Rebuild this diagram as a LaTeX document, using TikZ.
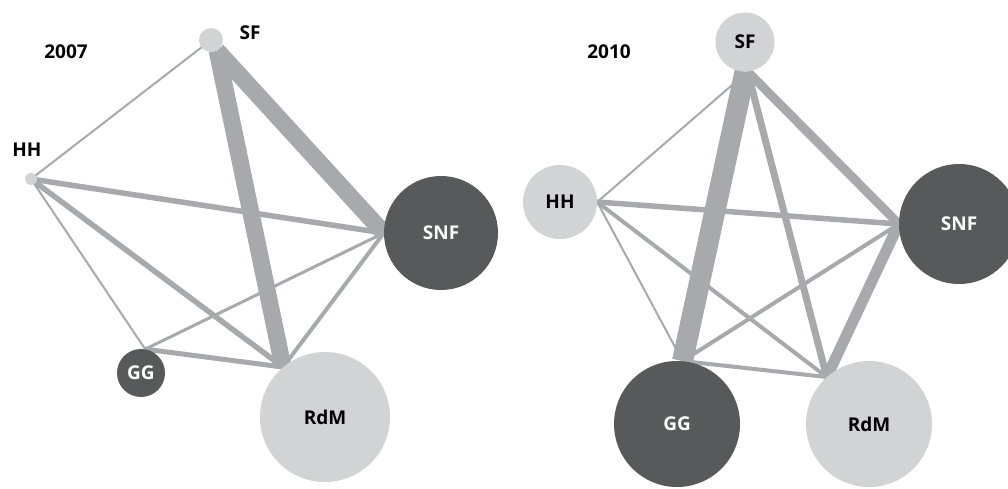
\documentclass[tikz,border=0pt]{standalone}
\usepackage{fontspec}
\setmainfont{Open Sans}
\usetikzlibrary{backgrounds}
\definecolor{tiegray}{HTML}{A7A9AC}
\definecolor{lightfill}{HTML}{D1D3D4}
\definecolor{darkfill}{HTML}{58595B}

\begin{document}
\begin{tikzpicture}[x=1pt,y=-1pt,
    lbl/.style={font=\bfseries\fontsize{19}{21}\selectfont},
    lightnode/.style={lbl,circle,fill=lightfill,inner sep=0pt,minimum size=#1},
    darknode/.style={lbl,circle,fill=darkfill,text=white,inner sep=0pt,minimum size=#1},
    tie/.style={draw=tiegray,line width=#1}]
    \useasboundingbox (0,0) rectangle (1008,489);
    % 2007
    \node[lbl] (y07) at (66,52) {2007};
    \node[lightnode=24] (SF07) at (211,40) {};
    \node[lbl] (SF07lbl) at (250,33) {SF};
    \node[lightnode=12] (HH07) at (31,179) {};
    \node[lbl] (HH07lbl) at (27,150) {HH};
    \node[darknode=114] (SNF07) at (441,233) {SNF};
    \node[darknode=48] (GG07) at (141,373) {GG};
    \node[lightnode=130] (RdM07) at (325,417) {RdM};
    % 2010
    \node[lbl] (y10) at (609,52) {2010};
    \node[lightnode=59] (SF10) at (745,42) {SF};
    \node[lightnode=74] (HH10) at (560,202) {HH};
    \node[darknode=120] (SNF10) at (959,224) {SNF};
    \node[darknode=126] (GG10) at (677,424) {GG};
    \node[lightnode=126] (RdM10) at (869,424) {RdM};
    \begin{scope}[on background layer]
      \draw[tie=17] (SF07.-60) -- (SNF07.west);
      \draw[tie=17] (SF07.-60) -- (RdM07.130);
      \draw[tie=2] (HH07.center) -- (SF07.center);
      \draw[tie=5.5] (HH07.center) -- (SNF07.west);
      \draw[tie=5.5] (HH07.center) -- (RdM07.130);
      \draw[tie=2] (HH07.center) -- (GG07.80);
      \draw[tie=3] (GG07.80) -- (SNF07.west);
      \draw[tie=5] (GG07.80) -- (RdM07.130);
      \draw[tie=4] (RdM07.130) -- (SNF07.west);
      % 2010
      \draw[tie=21] (SF10.-90) -- (GG10.85);
      \draw[tie=9] (SF10.-85) -- (SNF10.west);
      \draw[tie=7] (SF10.-85) -- (RdM10.132);
      \draw[tie=2] (SF10.-85) -- (HH10.east);
      \draw[tie=5.5] (HH10.east) -- (SNF10.west);
      \draw[tie=4] (HH10.east) -- (RdM10.132);
      \draw[tie=2] (HH10.east) -- (GG10.85);
      \draw[tie=4] (GG10.85) -- (SNF10.west);
      \draw[tie=4] (GG10.85) -- (RdM10.132);
      \draw[tie=11] (RdM10.132) -- (SNF10.west);
    \end{scope}
\end{tikzpicture}
\end{document}
